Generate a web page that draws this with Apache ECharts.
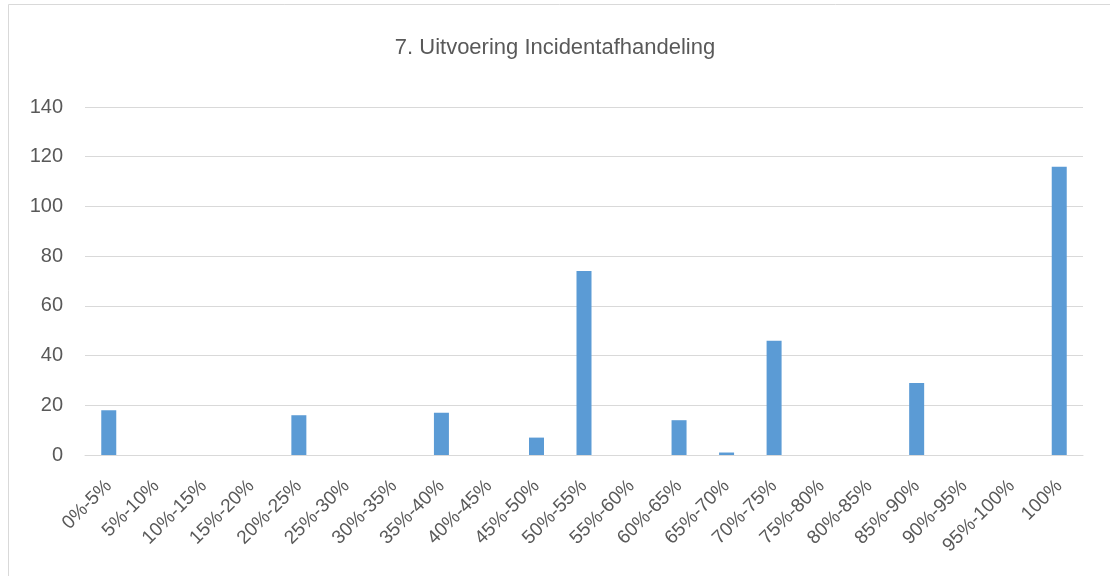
<!DOCTYPE html>
<html>
<head>
<meta charset="utf-8">
<script src="https://cdn.jsdelivr.net/npm/echarts@6/dist/echarts.min.js"></script>
<style>
html,body{margin:0;padding:0;background:#fff;}
#chart{width:1110px;height:576px;}
</style>
</head>
<body>
<div id="chart"></div>
<script>
const title = '7. Uitvoering Incidentafhandeling';
const categories = ['0%-5%','5%-10%','10%-15%','15%-20%','20%-25%','25%-30%','30%-35%','35%-40%','40%-45%','45%-50%','50%-55%','55%-60%','60%-65%','65%-70%','70%-75%','75%-80%','80%-85%','85%-90%','90%-95%','95%-100%','100%'];
const values = [18,0,0,0,16,0,0,17,0,7,74,0,14,1,46,0,0,29,0,0,116];
const yTicks = {min:0, max:140, interval:20};

const chart = echarts.init(document.getElementById('chart'));
chart.setOption({
  animation:false,
  backgroundColor:'#fff',
  graphic:[{type:'rect', silent:true, shape:{x:8.5,y:4.5,width:1200,height:700}, style:{fill:'none', stroke:'#d9d9d9', lineWidth:1}}],
  title:{text:title, left:'center', top:32, textStyle:{fontFamily:'Liberation Sans', fontSize:22, fontWeight:'normal', color:'#595959'}},
  grid:{left:85, right:27, top:107, bottom:121},
  xAxis:{type:'category', data:categories,
    axisLine:{lineStyle:{color:'#d9d9d9', width:1}},
    axisTick:{show:false},
    axisLabel:{rotate:45, interval:0, margin:28, color:'#595959', fontFamily:'Liberation Sans', fontSize:19}},
  yAxis:{type:'value', min:yTicks.min, max:yTicks.max, interval:yTicks.interval,
    axisLine:{show:false}, axisTick:{show:false},
    splitLine:{lineStyle:{color:'#d9d9d9', width:1}},
    axisLabel:{margin:22, color:'#595959', fontFamily:'Liberation Sans', fontSize:20}},
  series:[{type:'bar', data:values, barWidth:15, itemStyle:{color:'#5b9bd5'}}]
});
</script>
</body>
</html>
